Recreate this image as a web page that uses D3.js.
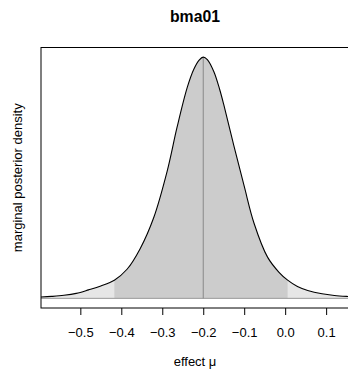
<!DOCTYPE html>
<html><head><meta charset="utf-8">
<script src="https://cdn.jsdelivr.net/npm/d3@7"></script>
<style>body{margin:0;background:#fff}svg{display:block;font-family:"Liberation Sans",Arial,Helvetica,sans-serif}</style>
</head><body>
<script>
const title = "bma01";
const xLabel = "effect \u03bc";
const yLabel = "marginal posterior density";
const xTicks = [-0.5, -0.4, -0.3, -0.2, -0.1, 0.0, 0.1];
const effect = [-0.600, -0.570, -0.540, -0.510, -0.480, -0.450, -0.417, -0.386, -0.354, -0.321, -0.288, -0.264, -0.239, -0.223, -0.210, -0.200, -0.190, -0.174, -0.160, -0.150, -0.125, -0.100, -0.076, -0.043, -0.015, 0.006, 0.030, 0.055, 0.090, 0.120, 0.150, 0.170];
const density = [0.020, 0.032, 0.050, 0.082, 0.140, 0.205, 0.300, 0.480, 0.820, 1.330, 2.100, 2.820, 3.480, 3.780, 3.930, 3.980, 3.940, 3.740, 3.450, 3.200, 2.510, 1.850, 1.240, 0.680, 0.430, 0.300, 0.195, 0.130, 0.075, 0.048, 0.032, 0.025];
const median = -0.2;
const ciLower = -0.417;
const ciUpper = 0.006;

const W = 348, H = 369;
const L = 41, T = 47.5, R = 349, B = 308;
const svg = d3.select("body").append("svg").attr("width", W).attr("height", H);

const x = d3.scaleLinear().domain([-0.596, 0.1558]).range([L, R]);
const yMax = d3.max(density);
const y = d3.scaleLinear().domain([-0.04 * yMax, 1.04 * yMax]).range([B, T]);

const pts = effect.map((e, i) => ({e, d: density[i]}));
const curve = d3.curveCatmullRom.alpha(0.5);

svg.append("defs").append("clipPath").attr("id", "clip")
  .append("rect").attr("x", L).attr("y", T).attr("width", R - L).attr("height", B - T);

const g = svg.append("g").attr("clip-path", "url(#clip)");
const area = d3.area().x(p => x(p.e)).y0(y(0)).y1(p => y(p.d)).curve(curve);

g.append("path").datum(pts).attr("d", area).attr("fill", "#e6e6e6");
g.append("clipPath").attr("id", "ci").append("rect")
  .attr("x", x(ciLower)).attr("y", T).attr("width", x(ciUpper) - x(ciLower)).attr("height", B - T);
g.append("g").attr("clip-path", "url(#ci)")
  .append("path").datum(pts).attr("d", area).attr("fill", "#cccccc");

g.append("line").attr("x1", L).attr("x2", R).attr("y1", y(0)).attr("y2", y(0))
  .attr("stroke", "#999").attr("stroke-width", 1);

const interp = d3.scaleLinear().domain(effect).range(density);
g.append("line").attr("x1", x(median)).attr("x2", x(median))
  .attr("y1", y(0)).attr("y2", y(interp(median)))
  .attr("stroke", "#888").attr("stroke-width", 1);

g.append("path").datum(pts)
  .attr("d", d3.line().x(p => x(p.e)).y(p => y(p.d)).curve(curve))
  .attr("fill", "none").attr("stroke", "#000").attr("stroke-width", 1.1);

svg.append("rect").attr("x", L).attr("y", T).attr("width", R - L).attr("height", B - T)
  .attr("fill", "none").attr("stroke", "#000").attr("stroke-width", 1);

const ax = svg.append("g").attr("transform", `translate(0,${B})`)
  .call(d3.axisBottom(x).tickValues(xTicks).tickSize(7)
    .tickFormat(d => d3.format(".1f")(d).replace("-", "\u2212")));
ax.select(".domain").remove();
ax.selectAll("line").attr("stroke", "#000");
ax.selectAll("text").attr("font-size", 13).attr("fill", "#000").attr("y", 29).attr("dy", 0)
  .style("font-family", '"Liberation Sans",Arial,sans-serif');

svg.append("text").attr("x", (L + R) / 2).attr("y", 21.5).attr("text-anchor", "middle")
  .attr("font-weight", "bold").attr("font-size", 15.8).text(title);
svg.append("text").attr("x", (L + R) / 2).attr("y", 366).attr("text-anchor", "middle")
  .attr("font-size", 13).text(xLabel);
svg.append("text").attr("transform", `translate(21.5,${(T + B) / 2}) rotate(-90)`)
  .attr("text-anchor", "middle").attr("font-size", 13).text(yLabel);
</script>
</body></html>
